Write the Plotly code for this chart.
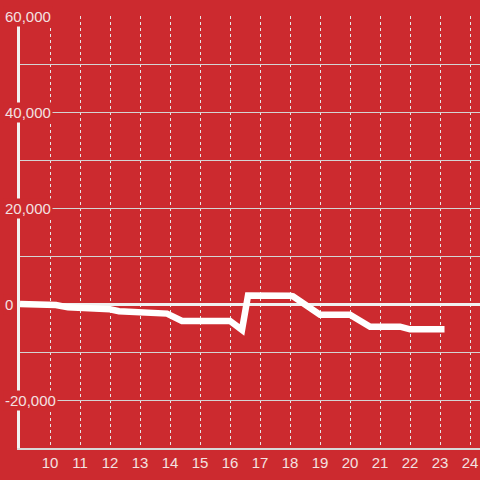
import plotly.graph_objects as go

# Data
x_vals = [9.0, 10.0, 10.2, 10.6, 11.2, 12.0, 12.3, 13.0, 13.9, 14.4, 16.0, 16.4, 16.6, 18.0, 18.1, 19.0, 20.0, 20.67, 21.67, 22.0, 23.15]
y_vals = [0, -100, -200, -700, -750, -1100, -1500, -1800, -2000, -3540, -3540, -5400, 1750, 1700, 1600, -2230, -2230, -4730, -4730, -5270, -5270]

y_label_vals = [60000, 40000, 20000, 0, -20000]
y_labels = [f"{v:,}" for v in y_label_vals]
x_tick_vals = list(range(10, 25))

BG = "#cc2a2f"
TXT = "#f3e1e1"

fig = go.Figure()
fig.add_trace(go.Scatter(
    x=x_vals, y=y_vals, mode="lines",
    line=dict(color="#ffffff", width=6.5),
    hoverinfo="skip", showlegend=False,
))

annotations = []
for v, t in zip(y_label_vals, y_labels):
    annotations.append(dict(
        x=-0.0370, xref="paper", xanchor="left",
        y=v, yref="y", yanchor="middle",
        text=t, showarrow=False,
        font=dict(family="Liberation Sans, Arial, sans-serif", size=15, color=TXT),
        bgcolor=BG, borderpad=1,
    ))

fig.update_layout(
    width=480, height=480,
    margin=dict(l=20, r=0, t=16, b=32),
    paper_bgcolor=BG, plot_bgcolor=BG,
    showlegend=False,
    annotations=annotations,
    xaxis=dict(
        range=[9, 24.333],
        tickvals=x_tick_vals,
        ticktext=[str(v) for v in x_tick_vals],
        showgrid=True, gridcolor="#e6e6e6", gridwidth=1, griddash="dot",
        showline=True, linecolor="#d8d8d8", linewidth=2,
        zeroline=False, ticks="",
        tickfont=dict(family="Liberation Sans, Arial, sans-serif", size=15, color=TXT),
    ),
    yaxis=dict(
        range=[-30000, 60000],
        dtick=10000, tick0=0,
        showticklabels=False,
        showgrid=True, gridcolor="#d4d4d4", gridwidth=1,
        showline=True, linecolor="#f2f2f2", linewidth=3,
        zeroline=True, zerolinecolor="#f0f0f0", zerolinewidth=3,
        ticks="",
    ),
)

fig.write_html(
    "out.html",
    config={"displayModeBar": False},
    post_script="document.body.style.margin='0';document.body.style.padding='0';document.body.style.overflow='hidden';",
)
